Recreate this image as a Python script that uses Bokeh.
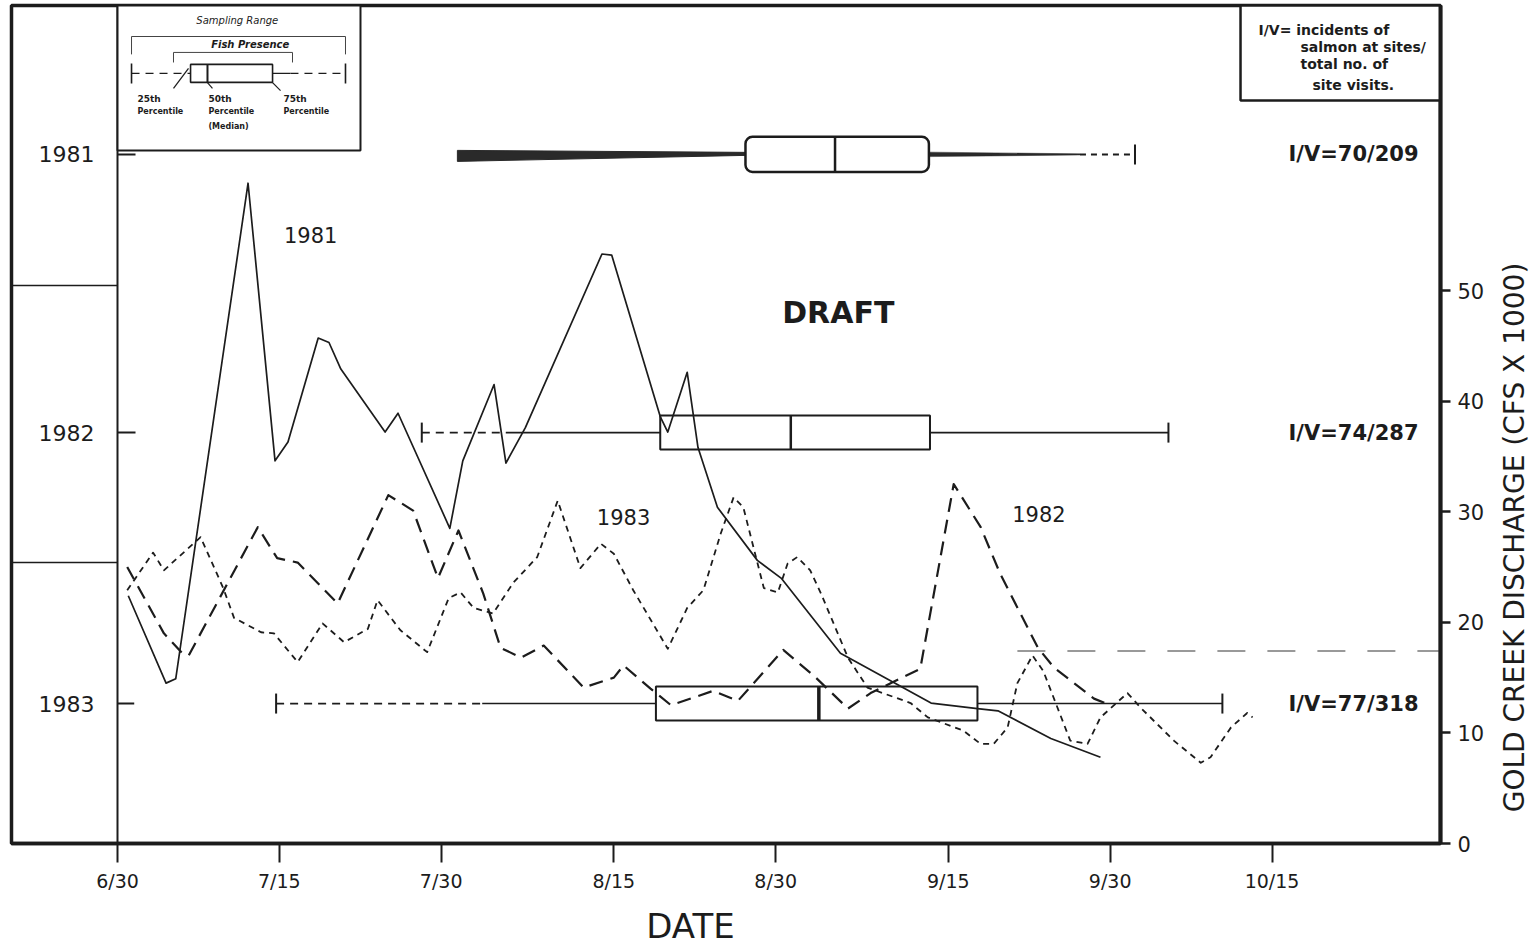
import math
from bokeh.plotting import figure
from bokeh.models import Range1d, FixedTicker, Label
from bokeh.embed import file_html
from bokeh.resources import INLINE

# ---------------- data (x = days after June 30, y = discharge in cfs x 1000) ----------------
tick_days = [0, 15, 30, 46, 61, 77, 92, 107]
tick_labels = ["6/30", "7/15", "7/30", "8/15", "8/30", "9/15", "9/30", "10/15"]
cfs_ticks = [0, 10, 20, 30, 40, 50]

day_1981 = [1.0, 4.5, 5.4, 12.1, 14.6, 15.8, 18.6, 19.6, 20.7, 24.8, 26.0, 30.8, 32.0, 34.9, 36.0,
            37.8, 44.9, 45.8, 50.3, 51.0, 52.8, 53.8, 55.6, 59.3, 61.5, 67.0, 75.4, 79.7, 81.6, 86.5, 91.1]
cfs_1981 = [22.4, 14.5, 14.9, 59.7, 34.6, 36.3, 45.7, 45.3, 42.9, 37.2, 38.9, 28.5, 34.6, 41.5, 34.4,
            37.6, 53.3, 53.2, 38.6, 37.2, 42.6, 35.8, 30.4, 25.6, 24.0, 17.2, 12.7, 12.2, 12.0, 9.5, 7.8]

day_1982 = [0.9, 4.3, 6.0, 6.6, 13.0, 14.8, 16.7, 20.4, 25.1, 27.4, 29.7, 31.6, 33.9, 35.5, 37.4, 39.5,
            43.2, 46.0, 46.9, 49.4, 51.3, 55.2, 57.5, 61.7, 64.5, 67.7, 69.8, 74.4, 77.5, 80.0, 81.8,
            85.3, 86.8, 90.5, 92.0]
cfs_1982 = [25.0, 19.0, 17.2, 17.0, 28.6, 25.8, 25.4, 21.7, 31.5, 30.1, 24.0, 28.3, 22.6, 17.7, 16.8, 17.9,
            14.1, 15.0, 16.1, 14.0, 12.5, 13.8, 12.9, 17.5, 15.2, 12.2, 13.6, 15.8, 32.5, 28.6, 24.4,
            17.7, 15.9, 13.1, 12.5]

day_1983 = [0.9, 3.3, 4.3, 7.7, 9.8, 10.8, 13.3, 14.5, 16.7, 19.0, 21.0, 23.2, 24.1, 26.2, 28.7, 30.7,
            31.8, 33.0, 34.8, 36.7, 38.9, 40.8, 42.9, 44.8, 46.0, 47.8, 51.0, 52.8, 54.3, 55.9, 57.1,
            58.0, 59.9, 61.2, 62.1, 63.0, 64.2, 65.2, 67.7, 69.5, 73.5, 75.1, 78.4, 80.0, 81.2, 82.5,
            83.4, 84.8, 85.8, 88.3, 89.9, 91.1, 93.6, 94.8, 97.9, 100.4, 101.3, 103.2, 104.7, 105.2]
cfs_1983 = [22.9, 26.3, 24.7, 27.7, 23.1, 20.4, 19.1, 19.0, 16.4, 19.9, 18.2, 19.4, 22.0, 19.3, 17.3, 22.2,
            22.7, 21.3, 20.8, 23.6, 25.9, 31.0, 24.9, 27.1, 26.2, 22.9, 17.6, 21.3, 22.9, 28.0, 31.3,
            30.4, 23.1, 22.7, 25.3, 25.9, 24.7, 22.6, 16.8, 14.1, 12.7, 11.4, 10.2, 9.0, 9.0, 10.5,
            14.5, 17.0, 15.6, 9.3, 9.0, 11.4, 13.6, 12.3, 9.3, 7.3, 7.8, 10.5, 11.8, 11.4]

years = ["1981", "1982", "1983"]
iv_labels = ["I/V=70/209", "I/V=74/287", "I/V=77/318"]
sample_start = [31.5, 28.2, 14.7]
fish_start = [31.5, 36.0, 33.8]
q1 = [58.2, 50.3, 49.9]
median = [66.5, 62.4, 65.0]
q3 = [75.2, 75.3, 79.7]
fish_end = [89.2, 97.4, 102.4]
sample_end = [94.3, 97.4, 102.4]
threshold_cfs = 17.4
threshold_from_day = 83.4

# ---------------- layout / style ----------------
INK = "#1c1c1c"
FONT = "DejaVu Sans"
X0, X1 = -9.824, 122.61          # left / right edges of the drawn box (days)
CFS_TOP = 75.77                  # top edge of the drawn box (cfs)
row_pos = [2.467, 1.471, 0.501]  # vertical position of each year band (rows 0..3)
box_h = 0.1217
cap_h = 0.0358

p = figure(width=1530, height=948, x_range=Range1d(-10.8434, 130.955),
           y_range=Range1d(-9.4937, 76.221), output_backend="svg", toolbar_location=None,
           y_axis_location="right", min_border=0, min_border_left=0, min_border_right=0,
           min_border_top=0, min_border_bottom=0)
p.extra_y_ranges = {"rows": Range1d(-0.3759, 3.0179)}
p.grid.visible = False
p.outline_line_color = None
p.background_fill_color = "white"
p.border_fill_color = "white"

xa = p.xaxis[0]
xa.fixed_location = 0
xa.bounds = (X0, X1)
xa.ticker = FixedTicker(ticks=tick_days)
xa.major_label_overrides = {d: l for d, l in zip(tick_days, tick_labels)}
xa.minor_tick_line_color = None
xa.major_tick_out = 19
xa.major_tick_in = 0
xa.major_tick_line_width = 2
xa.major_tick_line_color = INK
xa.axis_line_width = 3.5
xa.axis_line_color = INK
xa.major_label_text_font = FONT
xa.major_label_text_font_size = "19px"
xa.major_label_text_color = INK
xa.major_label_standoff = 7

ya = p.yaxis[0]
ya.fixed_location = X1
ya.bounds = (0, CFS_TOP)
ya.ticker = FixedTicker(ticks=cfs_ticks)
ya.minor_tick_line_color = None
ya.major_tick_out = 10
ya.major_tick_in = 0
ya.major_tick_line_width = 2.5
ya.major_tick_line_color = INK
ya.axis_line_width = 4
ya.axis_line_color = INK
ya.major_label_text_font = FONT
ya.major_label_text_font_size = "21px"
ya.major_label_text_color = INK
ya.major_label_standoff = 7


def add_label(x, y, text, size, rows=False, style="normal", align="center", baseline="middle", angle=0.0):
    kw = {"y_range_name": "rows"} if rows else {}
    p.add_layout(Label(x=x, y=y, text=text, text_font=FONT, text_font_size=f"{size}px",
                       text_font_style=style, text_align=align, text_baseline=baseline,
                       angle=angle, text_color=INK, **kw))


# ---------------- outer box, left year panel ----------------
p.quad(left=[X0], right=[X1], bottom=[0], top=[3.0], y_range_name="rows",
       fill_color=None, line_color=INK, line_width=3.5)
p.segment(x0=[0], x1=[0], y0=[0], y1=[3], y_range_name="rows", line_color=INK, line_width=2)
p.segment(x0=[X0, X0], x1=[0, 0], y0=[1.998, 1.006], y1=[1.998, 1.006],
          y_range_name="rows", line_color=INK, line_width=1.5)
p.segment(x0=[0, 0, 0], x1=[1.67, 1.67, 1.55], y0=row_pos, y1=row_pos,
          y_range_name="rows", line_color=INK, line_width=2)
for yr, r in zip(years, row_pos):
    add_label(-4.73, r, yr, 22, rows=True)

# ---------------- discharge curves ----------------
p.line(day_1981, cfs_1981, line_color=INK, line_width=1.7, line_join="round")
p.line(day_1982, cfs_1982, line_color=INK, line_width=2.2, line_dash="14 8", line_join="round")
p.line(day_1983, cfs_1983, line_color=INK, line_width=1.8, line_dash="6 5", line_join="round")
p.line([threshold_from_day, X1], [threshold_cfs, threshold_cfs], line_color="#555555",
       line_width=1.5, line_dash="28 22", line_alpha=0.8)

add_label(17.9, 55.0, "1981", 21)
add_label(46.9, 29.5, "1983", 21)
add_label(85.4, 29.8, "1982", 21)
add_label(66.8, 48.0, "DRAFT", 30, style="bold")


# ---------------- box plots ----------------
def draw_box(r, s0, f0, a, m, b, f1, s1, h, lw=1.0, left_cap=True, med_w=2.5):
    if s0 < f0:
        p.segment(x0=[s0], x1=[f0], y0=[r], y1=[r], y_range_name="rows", line_color=INK,
                  line_width=1.8 * lw, line_dash="8 6")
    p.segment(x0=[f0, b], x1=[a, f1], y0=[r, r], y1=[r, r], y_range_name="rows",
              line_color=INK, line_width=1.6 * lw)
    if f1 < s1:
        p.segment(x0=[f1], x1=[s1], y0=[r], y1=[r], y_range_name="rows", line_color=INK,
                  line_width=1.8 * lw, line_dash="8 6")
    p.quad(left=[a], right=[b], top=[r + h / 2], bottom=[r - h / 2], y_range_name="rows",
           fill_color="white", fill_alpha=0.0, line_color=INK, line_width=2 * lw)
    p.segment(x0=[m], x1=[m], y0=[r - h / 2], y1=[r + h / 2], y_range_name="rows",
              line_color=INK, line_width=med_w * lw)
    caps = [s1] + ([s0] if left_cap else [])
    p.segment(x0=caps, x1=caps, y0=[r - cap_h] * len(caps), y1=[r + cap_h] * len(caps),
              y_range_name="rows", line_color=INK, line_width=2 * lw)


# 1981: drawn with tapered (ink-pen) whiskers and rounded box
r = row_pos[0]
p.patch(x=[sample_start[0], q1[0], q1[0], sample_start[0]],
        y=[r + 0.0143, r + 0.0072, r - 0.0036, r - 0.0251], y_range_name="rows",
        fill_color="#2a2a2a", line_color="#2a2a2a", line_width=1)
p.patch(x=[q3[0], fish_end[0], fish_end[0], q3[0]],
        y=[r + 0.008, r + 0.002, r - 0.002, r - 0.008], y_range_name="rows",
        fill_color="#2a2a2a", line_color="#2a2a2a", line_width=0.5)
p.segment(x0=[fish_end[0]], x1=[sample_end[0]], y0=[r], y1=[r], y_range_name="rows",
          line_color=INK, line_width=2, line_dash="6 5")
p.segment(x0=[sample_end[0]], x1=[sample_end[0]], y0=[r - cap_h], y1=[r + cap_h],
          y_range_name="rows", line_color=INK, line_width=2)
p.quad(left=[q1[0]], right=[q3[0]], top=[r + 0.0627], bottom=[r - 0.0627], y_range_name="rows",
       fill_color="white", line_color=INK, line_width=2.5, border_radius=7)
p.segment(x0=[median[0]], x1=[median[0]], y0=[r - 0.0627], y1=[r + 0.0627], y_range_name="rows",
          line_color=INK, line_width=2.5)

for i in (1, 2):
    draw_box(row_pos[i], sample_start[i], fish_start[i], q1[i], median[i], q3[i], fish_end[i],
             sample_end[i], box_h, med_w=2.5 if i == 1 else 3.5)

for lab, rr in zip(iv_labels, row_pos):
    add_label(108.53, rr, lab, 21, rows=True, style="bold", align="left")

# ---------------- top-left explanation box ----------------
p.quad(left=[0], right=[22.52], bottom=[2.481], top=[3.0], y_range_name="rows",
       fill_color="white", line_color=INK, line_width=2)
draw_box(2.757, 1.30, 6.77, 6.77, 8.34, 14.37, 16.03, 21.13, 0.0644, lw=0.8, med_w=2.5)
p.multi_line(xs=[[1.30, 1.30, 21.13, 21.13], [5.19, 5.19, 16.22, 16.22]],
             ys=[[2.825, 2.889, 2.889, 2.825], [2.796, 2.832, 2.832, 2.796]],
             y_range_name="rows", line_color="#444444", line_width=1)
p.segment(x0=[5.19, 8.80, 15.11], x1=[6.58, 8.34, 14.37], y0=[2.703, 2.703, 2.695],
          y1=[2.775, 2.724, 2.724], y_range_name="rows", line_color=INK, line_width=1.2)
add_label(11.1, 2.946, "Sampling Range", 10, rows=True, style="italic")
add_label(12.3, 2.860, "Fish Presence", 10, rows=True, style="bold italic")
add_label(1.85, 2.664, "25th", 9, rows=True, style="bold", align="left")
add_label(1.85, 2.621, "Percentile", 8, rows=True, style="bold", align="left")
add_label(8.43, 2.664, "50th", 9, rows=True, style="bold", align="left")
add_label(8.43, 2.621, "Percentile", 8, rows=True, style="bold", align="left")
add_label(8.43, 2.567, "(Median)", 8, rows=True, style="bold", align="left")
add_label(15.38, 2.664, "75th", 9, rows=True, style="bold", align="left")
add_label(15.38, 2.621, "Percentile", 8, rows=True, style="bold", align="left")

# ---------------- top-right I/V note ----------------
p.quad(left=[104.08], right=[X1], bottom=[2.660], top=[3.0], y_range_name="rows",
       fill_color="white", line_color=INK, line_width=2.5)
add_label(105.75, 2.911, "I/V= incidents of", 14, rows=True, style="bold", align="left")
add_label(109.64, 2.850, "salmon at sites/", 14, rows=True, style="bold", align="left")
add_label(109.64, 2.789, "total no. of", 14, rows=True, style="bold", align="left")
add_label(110.75, 2.717, "site visits.", 14, rows=True, style="bold", align="left")

# ---------------- axis titles ----------------
add_label(53.1, -7.45, "DATE", 34)
add_label(129.47, 27.67, "GOLD CREEK DISCHARGE (CFS X 1000)", 28, angle=math.pi / 2)

open("out.html", "w").write(file_html(p, INLINE))
